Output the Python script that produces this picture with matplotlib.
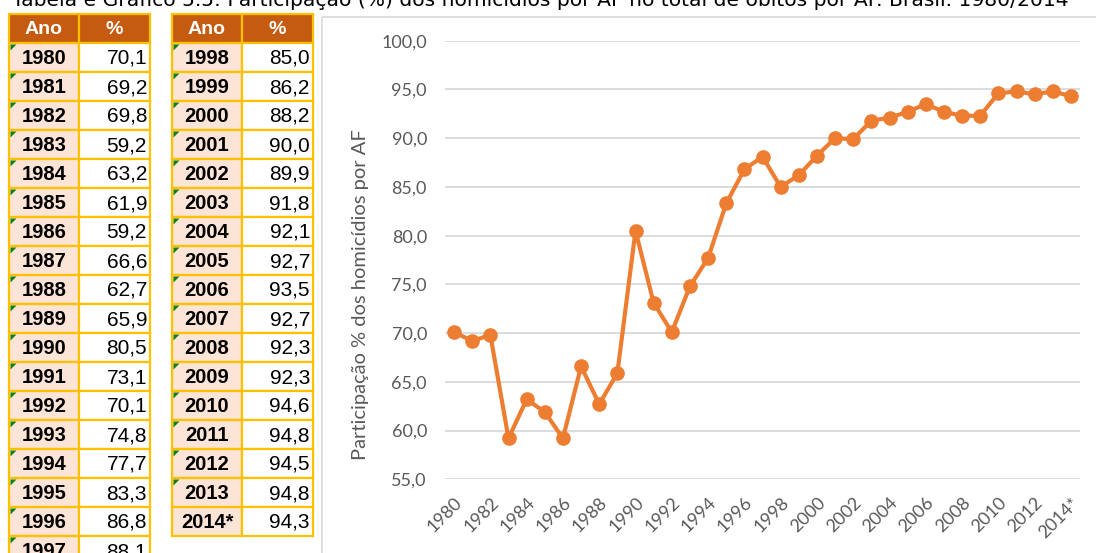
import matplotlib.pyplot as plt
from matplotlib.patches import Rectangle, Polygon

years = [str(y) for y in range(1980, 2014)] + ["2014*"]
values = [70.1, 69.2, 69.8, 59.2, 63.2, 61.9, 59.2, 66.6, 62.7, 65.9,
          80.5, 73.1, 70.1, 74.8, 77.7, 83.3, 86.8, 88.1, 85.0, 86.2,
          88.2, 90.0, 89.9, 91.8, 92.1, 92.7, 93.5, 92.7, 92.3, 92.3,
          94.6, 94.8, 94.5, 94.8, 94.3]
headers = ["Ano", "%"]
title = ("Tabela e Gráfico 5.5: Participação (%) dos homicídios por AF "
         "no total de óbitos por AF. Brasil. 1980/2014")
ylabel = "Participação % dos homicídios por AF"

W, H = 1096, 553
fig = plt.figure(figsize=(W / 100, H / 100), dpi=100)

# overlay in pixel coords (origin top-left) for tables, title and frame
bg = fig.add_axes([0, 0, 1, 1])
bg.set_xlim(0, W)
bg.set_ylim(H, 0)
bg.axis("off")

bg.text(540, 6, title, ha="center", va="baseline", fontsize=14.6,
        family="DejaVu Sans", color="black")

# chart panel frame
bg.add_patch(Rectangle((322, 17), 800, 600, fill=False, ec="#D9D9D9", lw=1.2))

def draw_table(x0, rows, y0=14, rh=29, wa=70, wv=71):
    for j, (h, w, x) in enumerate(zip(headers, [wa, wv], [x0, x0 + wa])):
        bg.add_patch(Rectangle((x, y0), w, rh, fc="#C55A11", ec="#FFC000", lw=1.6))
        bg.text(x + w / 2, y0 + rh / 2 + 1, h, ha="center", va="center",
                fontsize=14, fontweight="bold", color="white", family="Liberation Sans")
    for i, (yr, v) in enumerate(rows):
        top = y0 + rh * (i + 1)
        bg.add_patch(Rectangle((x0, top), wa, rh, fc="#FCE4D6", ec="#FFC000", lw=1.6))
        bg.add_patch(Rectangle((x0 + wa, top), wv, rh, fc="white", ec="#FFC000", lw=1.6))
        if not yr.endswith("*"):
            bg.add_patch(Polygon([(x0 + 1.5, top + 1.5), (x0 + 7.5, top + 1.5),
                                  (x0 + 1.5, top + 7.5)], fc="#108010", ec="none"))
        bg.text(x0 + wa / 2, top + rh / 2 + 1, yr, ha="center", va="center",
                fontsize=14.5, fontweight="bold", color="black", family="Liberation Sans")
        bg.text(x0 + wa + wv - 3, top + rh / 2 + 1, f"{v:.1f}".replace(".", ","),
                ha="right", va="center", fontsize=15, color="black", family="Liberation Sans")

pairs = list(zip(years, values))
draw_table(9, pairs[:18])
draw_table(172, pairs[18:])

# line chart
ax = fig.add_axes([445 / W, 1 - 479.3 / H, 635 / W, 438.6 / H])
x = list(range(len(years)))
ax.plot(x, values, color="#ED7D31", lw=3, marker="o", ms=9.5, zorder=3)
ax.set_xlim(-0.5, len(years) - 0.5)
ax.set_ylim(55, 100)
yt = [55 + 5 * k for k in range(10)]
ax.set_yticks(yt)
ax.set_yticklabels([f"{t:.1f}".replace(".", ",") for t in yt])
ax.set_xticks(x[::2])
ax.set_xticklabels(years[::2], rotation=45, ha="right", va="top",
                   rotation_mode="anchor")
ax.grid(axis="y", color="#D9D9D9", lw=1.3)
ax.set_axisbelow(True)
for s in ax.spines.values():
    s.set_visible(False)
ax.tick_params(axis="both", length=0, labelcolor="#595959", labelsize=13)
ax.tick_params(axis="y", pad=13)
ax.tick_params(axis="x", pad=11)
for lab in ax.get_xticklabels() + ax.get_yticklabels():
    lab.set_family("Lato")
ax.set_ylabel(ylabel, fontsize=14.5, color="#595959", family="Lato", labelpad=9)
ax.yaxis.label.set_y(0.42)

fig.savefig("out.png", dpi=100, facecolor="white")
